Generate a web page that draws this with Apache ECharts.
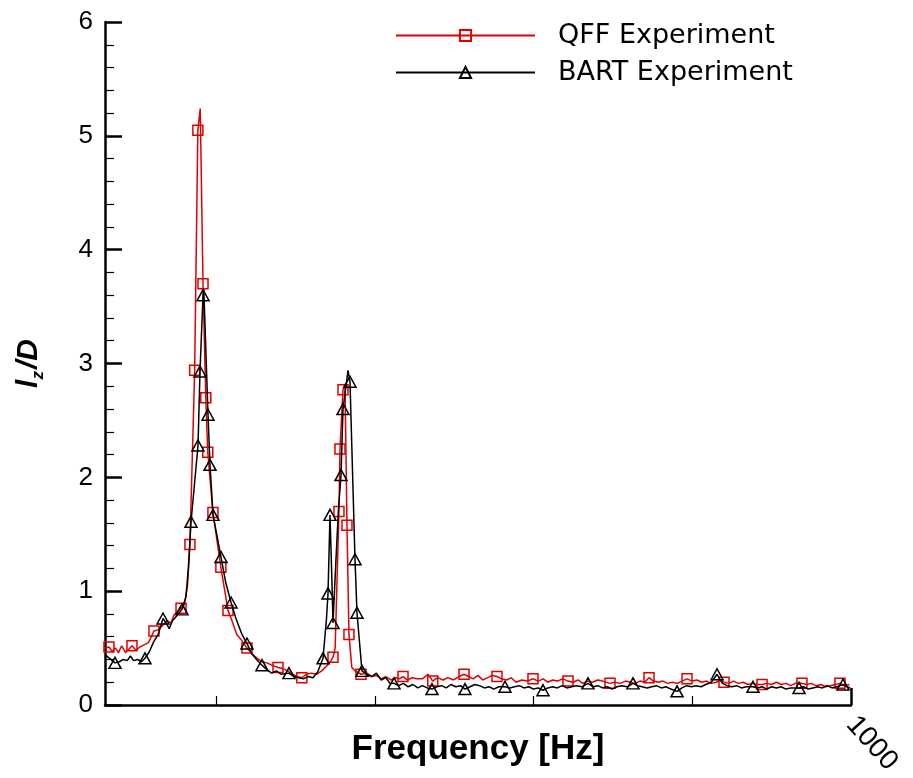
<!DOCTYPE html>
<html>
<head>
<meta charset="utf-8">
<script src="https://cdn.jsdelivr.net/npm/echarts@6/dist/echarts.min.js"></script>
<style>
  html, body { margin: 0; padding: 0; background: #ffffff; }
  #chart { width: 913px; height: 778px; }
</style>
</head>
<body>
<div id="chart"></div>
<script>
// Spanwise correlation length l_z/D versus frequency, two experiments.

const seriesNames = ['QFF Experiment', 'BART Experiment'];

// QFF experiment: frequency [Hz] and l_z/D
const qffFreq = [
  60, 65, 69, 73, 77, 81, 86, 90, 94, 99,
  104, 110, 115, 121.7, 127, 133, 138, 143, 147, 151,
  155.8, 160, 164, 167, 173, 177, 180, 183.5, 187, 189.5,
  196, 206, 211, 215, 220, 226, 232, 238.9, 245, 252,
  258, 264, 270, 278, 284, 290, 296, 302, 308, 314,
  320, 327, 333, 339, 344, 347.3, 350, 352, 354.8, 356.1,
  359.9, 362.4, 364.9, 367.4, 371, 375, 382.6, 390, 396, 402,
  408, 414, 420, 426, 431, 435.5, 441, 447, 453, 460,
  467, 473, 479, 486, 492, 499, 506, 512.4, 518, 524,
  530, 536, 542, 548, 553.9, 560, 566, 572, 578, 585,
  592, 599.3, 606, 612, 618, 624, 630, 637, 643.4, 650,
  656, 662, 668, 674, 681, 687, 696.3, 702, 709, 716,
  722, 728, 734, 740, 745.5, 751, 757, 763, 769, 775,
  781, 787, 793.4, 800, 806, 812, 818, 824, 830, 836,
  840, 846, 852, 858, 864, 870, 876, 882, 887.9, 894,
  900, 906, 912, 918, 924, 930, 938.2, 944, 950, 956,
  962, 968, 974, 980, 986.1, 992, 998
];
const qffValue = [
  0.50, 0.51, 0.47, 0.50, 0.46, 0.52, 0.46, 0.49, 0.52, 0.48,
  0.51, 0.53, 0.55, 0.65, 0.66, 0.70, 0.74, 0.72, 0.79, 0.82,
  0.85, 0.88, 1.05, 1.41, 2.94, 5.05, 5.24, 3.70, 2.70, 2.22,
  1.69, 1.21, 1.00, 0.83, 0.74, 0.62, 0.57, 0.50, 0.45, 0.41,
  0.38, 0.37, 0.35, 0.33, 0.32, 0.30, 0.27, 0.25, 0.24, 0.27,
  0.28, 0.27, 0.30, 0.34, 0.38, 0.42, 0.50, 1.00, 1.70, 2.25,
  2.77, 2.82, 1.58, 0.62, 0.33, 0.30, 0.27, 0.28, 0.25, 0.26,
  0.23, 0.25, 0.22, 0.24, 0.23, 0.25, 0.22, 0.24, 0.23, 0.23,
  0.27, 0.21, 0.24, 0.22, 0.24, 0.22, 0.25, 0.27, 0.25, 0.23,
  0.26, 0.22, 0.24, 0.26, 0.25, 0.23, 0.22, 0.24, 0.20, 0.22,
  0.21, 0.23, 0.21, 0.23, 0.20, 0.22, 0.21, 0.23, 0.21, 0.20,
  0.22, 0.19, 0.21, 0.20, 0.22, 0.21, 0.19, 0.20, 0.19, 0.21,
  0.20, 0.19, 0.21, 0.20, 0.24, 0.21, 0.20, 0.21, 0.19, 0.20,
  0.19, 0.21, 0.23, 0.21, 0.22, 0.20, 0.21, 0.19, 0.20, 0.22,
  0.20, 0.19, 0.21, 0.19, 0.20, 0.18, 0.19, 0.18, 0.18, 0.19,
  0.18, 0.20, 0.18, 0.19, 0.17, 0.19, 0.19, 0.18, 0.19, 0.17,
  0.18, 0.16, 0.17, 0.18, 0.19, 0.17, 0.18
];
// samples that carry a square symbol
const qffMarked = [
  65, 94, 121.7, 155.8, 167, 173, 177, 183.5, 187, 189.5, 196, 206, 215,
  238.9, 278, 308, 347.3, 354.8, 356.1, 359.9, 364.9, 367.4, 382.6,
  435.5, 473, 512.4, 553.9, 599.3, 643.4, 696.3, 745.5, 793.4, 840,
  887.9, 938.2, 986.1
];

// BART experiment: frequency [Hz] and l_z/D
const bartFreq = [
  60, 64, 72.6, 78, 83, 88, 92, 96, 101, 106,
  110.4, 116, 121, 127, 133.1, 137, 141, 145, 150, 157,
  162, 165, 168.4, 177.2, 179.7, 183.5, 184.5, 189.8, 192.3, 196.1,
  206.2, 212, 218.8, 225, 232, 238.9, 245, 251, 257.8, 264,
  270, 276, 282, 291.8, 298, 304, 310, 316, 322, 328,
  334.7, 339, 341, 343.5, 345.5, 347.3, 350.5, 354, 357.4, 359.9,
  366.2, 368.7, 375, 377.5, 383.8, 390, 396, 402, 408, 414,
  419, 424.2, 430, 436, 442, 448, 454, 460, 466, 472,
  478, 484, 490, 496, 502, 508, 513.6, 520, 526, 532,
  538, 544, 550, 556, 564, 570, 576, 582, 588, 594,
  600, 606, 611.9, 618, 624, 630, 636, 642, 648, 654,
  661, 668.6, 675, 681, 687, 693, 699, 705, 711, 718,
  725.3, 731, 737, 743, 749, 755, 761, 767, 773, 780.8,
  787, 793, 799, 805, 811, 817, 824, 831.2, 838, 844,
  850, 856, 862, 868, 876.5, 882, 888, 894, 900, 906,
  912, 918, 924, 934.5, 940, 946, 952, 958, 964, 970,
  976, 982, 989.9, 995, 999
];
const bartValue = [
  0.44, 0.42, 0.37, 0.38, 0.40, 0.39, 0.43, 0.39, 0.40, 0.38,
  0.41, 0.47, 0.55, 0.62, 0.76, 0.72, 0.67, 0.74, 0.78, 0.84,
  0.95, 1.20, 1.61, 2.28, 2.93, 3.60, 3.65, 2.55, 2.11, 1.67,
  1.30, 1.08, 0.90, 0.76, 0.63, 0.54, 0.45, 0.40, 0.35, 0.31,
  0.28, 0.30, 0.27, 0.28, 0.25, 0.24, 0.23, 0.25, 0.24, 0.29,
  0.41, 0.75, 0.98, 1.67, 1.20, 0.72, 1.20, 1.70, 2.02, 2.60,
  2.94, 2.84, 1.28, 0.81, 0.30, 0.27, 0.25, 0.28, 0.22, 0.24,
  0.19, 0.19, 0.17, 0.19, 0.16, 0.18, 0.15, 0.17, 0.15, 0.14,
  0.16, 0.17, 0.15, 0.18, 0.16, 0.17, 0.14, 0.16, 0.18, 0.17,
  0.15, 0.16, 0.14, 0.16, 0.16, 0.15, 0.16, 0.17, 0.15, 0.16,
  0.14, 0.15, 0.13, 0.15, 0.16, 0.15, 0.17, 0.15, 0.16, 0.17,
  0.16, 0.19, 0.16, 0.17, 0.15, 0.16, 0.14, 0.16, 0.17, 0.16,
  0.19, 0.17, 0.16, 0.15, 0.16, 0.17, 0.15, 0.16, 0.14, 0.12,
  0.15, 0.17, 0.16, 0.17, 0.16, 0.18, 0.20, 0.27, 0.19, 0.17,
  0.16, 0.17, 0.15, 0.16, 0.16, 0.15, 0.16, 0.14, 0.16, 0.15,
  0.16, 0.14, 0.15, 0.15, 0.16, 0.14, 0.15, 0.16, 0.15, 0.17,
  0.15, 0.16, 0.18, 0.16, 0.15
];
// samples that carry a triangle symbol
const bartMarked = [
  72.6, 110.4, 133.1, 157, 168.4, 177.2, 179.7, 183.5, 189.8, 192.3, 196.1,
  206.2, 218.8, 238.9, 257.8, 291.8, 334.7, 341, 343.5, 347.3, 357.4, 359.9,
  368.7, 375, 377.5, 383.8, 424.2, 472, 513.6, 564, 611.9, 668.6, 725.3,
  780.8, 831.2, 876.5, 934.5, 989.9
];

// axis ranges and tick positions
const freqMin = 60, freqMax = 1000;
const freqMinorTicks = [200, 400, 600, 800];
const freqMajorTicks = [1000];
const ratioMin = 0, ratioMax = 6, ratioStep = 1;

const FONT = 'Liberation Sans, Arial, sans-serif';

function buildPoints(freq, values, marked) {
  const withSymbol = new Set(marked);
  return freq.map((f, i) => withSymbol.has(f)
    ? { value: [f, values[i]] }
    : { value: [f, values[i]], symbol: 'none' });
}

const chart = echarts.init(document.getElementById('chart'), null, { renderer: 'canvas' });

const option = {
  backgroundColor: '#ffffff',
  animation: false,
  grid: {
    left: 105, right: 62, top: 22, bottom: 73,
    containLabel: false,
    outerBoundsMode: 'none'
  },
  legend: {
    orient: 'vertical',
    left: 390,
    top: 17,
    itemWidth: 139,
    itemHeight: 14,
    itemGap: 10,
    selectedMode: false,
    data: seriesNames,
    textStyle: {
      fontFamily: 'DejaVu Sans, sans-serif',
      fontSize: 27,
      color: '#000000',
      padding: [0, 0, 0, 18]
    }
  },
  xAxis: [
    {
      type: 'value',
      min: freqMin,
      max: freqMax,
      position: 'bottom',
      name: 'Frequency [Hz]',
      nameLocation: 'middle',
      nameGap: 27,
      nameTextStyle: {
        fontFamily: FONT, fontSize: 35, fontWeight: 'bold', color: '#000000'
      },
      axisLine: { show: true, onZero: false, lineStyle: { color: '#000000', width: 2.5 } },
      axisTick: {
        show: true, inside: true, length: 9,
        customValues: freqMinorTicks,
        lineStyle: { color: '#000000', width: 1.2 }
      },
      axisLabel: { show: false },
      splitLine: { show: false }
    },
    {
      type: 'value',
      min: freqMin,
      max: freqMax,
      position: 'bottom',
      axisLine: { show: false },
      axisTick: {
        show: true, inside: true, length: 17,
        customValues: freqMajorTicks,
        lineStyle: { color: '#000000', width: 2.5 }
      },
      axisLabel: {
        show: true,
        customValues: freqMajorTicks,
        formatter: (v) => String(v),
        rotate: -48,
        margin: 15,
        fontFamily: FONT,
        fontSize: 28,
        color: '#000000'
      },
      splitLine: { show: false }
    }
  ],
  yAxis: {
    type: 'value',
    min: ratioMin,
    max: ratioMax,
    interval: ratioStep,
    name: '{v|l}{s|z}{v|/D}',
    nameLocation: 'middle',
    nameRotate: 90,
    nameGap: 58,
    nameTextStyle: {
      rich: {
        v: { fontFamily: FONT, fontSize: 30, fontWeight: 'bold', fontStyle: 'italic', color: '#000000', verticalAlign: 'middle', lineHeight: 36 },
        s: { fontFamily: FONT, fontSize: 17, fontWeight: 'bold', fontStyle: 'italic', color: '#000000', verticalAlign: 'bottom', lineHeight: 36, padding: [0, 2, 0, 0] }
      }
    },
    axisLine: { show: true, onZero: false, lineStyle: { color: '#000000', width: 2.5 } },
    axisTick: { show: true, inside: true, length: 17, lineStyle: { color: '#000000', width: 2.5 } },
    minorTick: { show: true, splitNumber: 5, length: 9, lineStyle: { color: '#000000', width: 1.2 } },
    axisLabel: { fontFamily: FONT, fontSize: 26, color: '#000000', margin: 12 },
    splitLine: { show: false },
    minorSplitLine: { show: false }
  },
  series: [
    {
      name: seriesNames[0],
      type: 'line',
      xAxisIndex: 0,
      data: buildPoints(qffFreq, qffValue, qffMarked),
      symbol: 'rect',
      symbolSize: 10,
      showSymbol: true,
      showAllSymbol: true,
      lineStyle: { color: '#e00000', width: 1.5 },
      itemStyle: { color: 'rgba(255,255,255,0)', borderColor: '#e00000', borderWidth: 1.5 },
      emphasis: { disabled: true },
      z: 2
    },
    {
      name: seriesNames[1],
      type: 'line',
      xAxisIndex: 0,
      data: buildPoints(bartFreq, bartValue, bartMarked),
      symbol: 'triangle',
      symbolSize: [12, 11],
      showSymbol: true,
      showAllSymbol: true,
      lineStyle: { color: '#000000', width: 1.5 },
      itemStyle: { color: 'rgba(255,255,255,0)', borderColor: '#000000', borderWidth: 1.5 },
      emphasis: { disabled: true },
      z: 3
    }
  ]
};

chart.setOption(option);
</script>
</body>
</html>
